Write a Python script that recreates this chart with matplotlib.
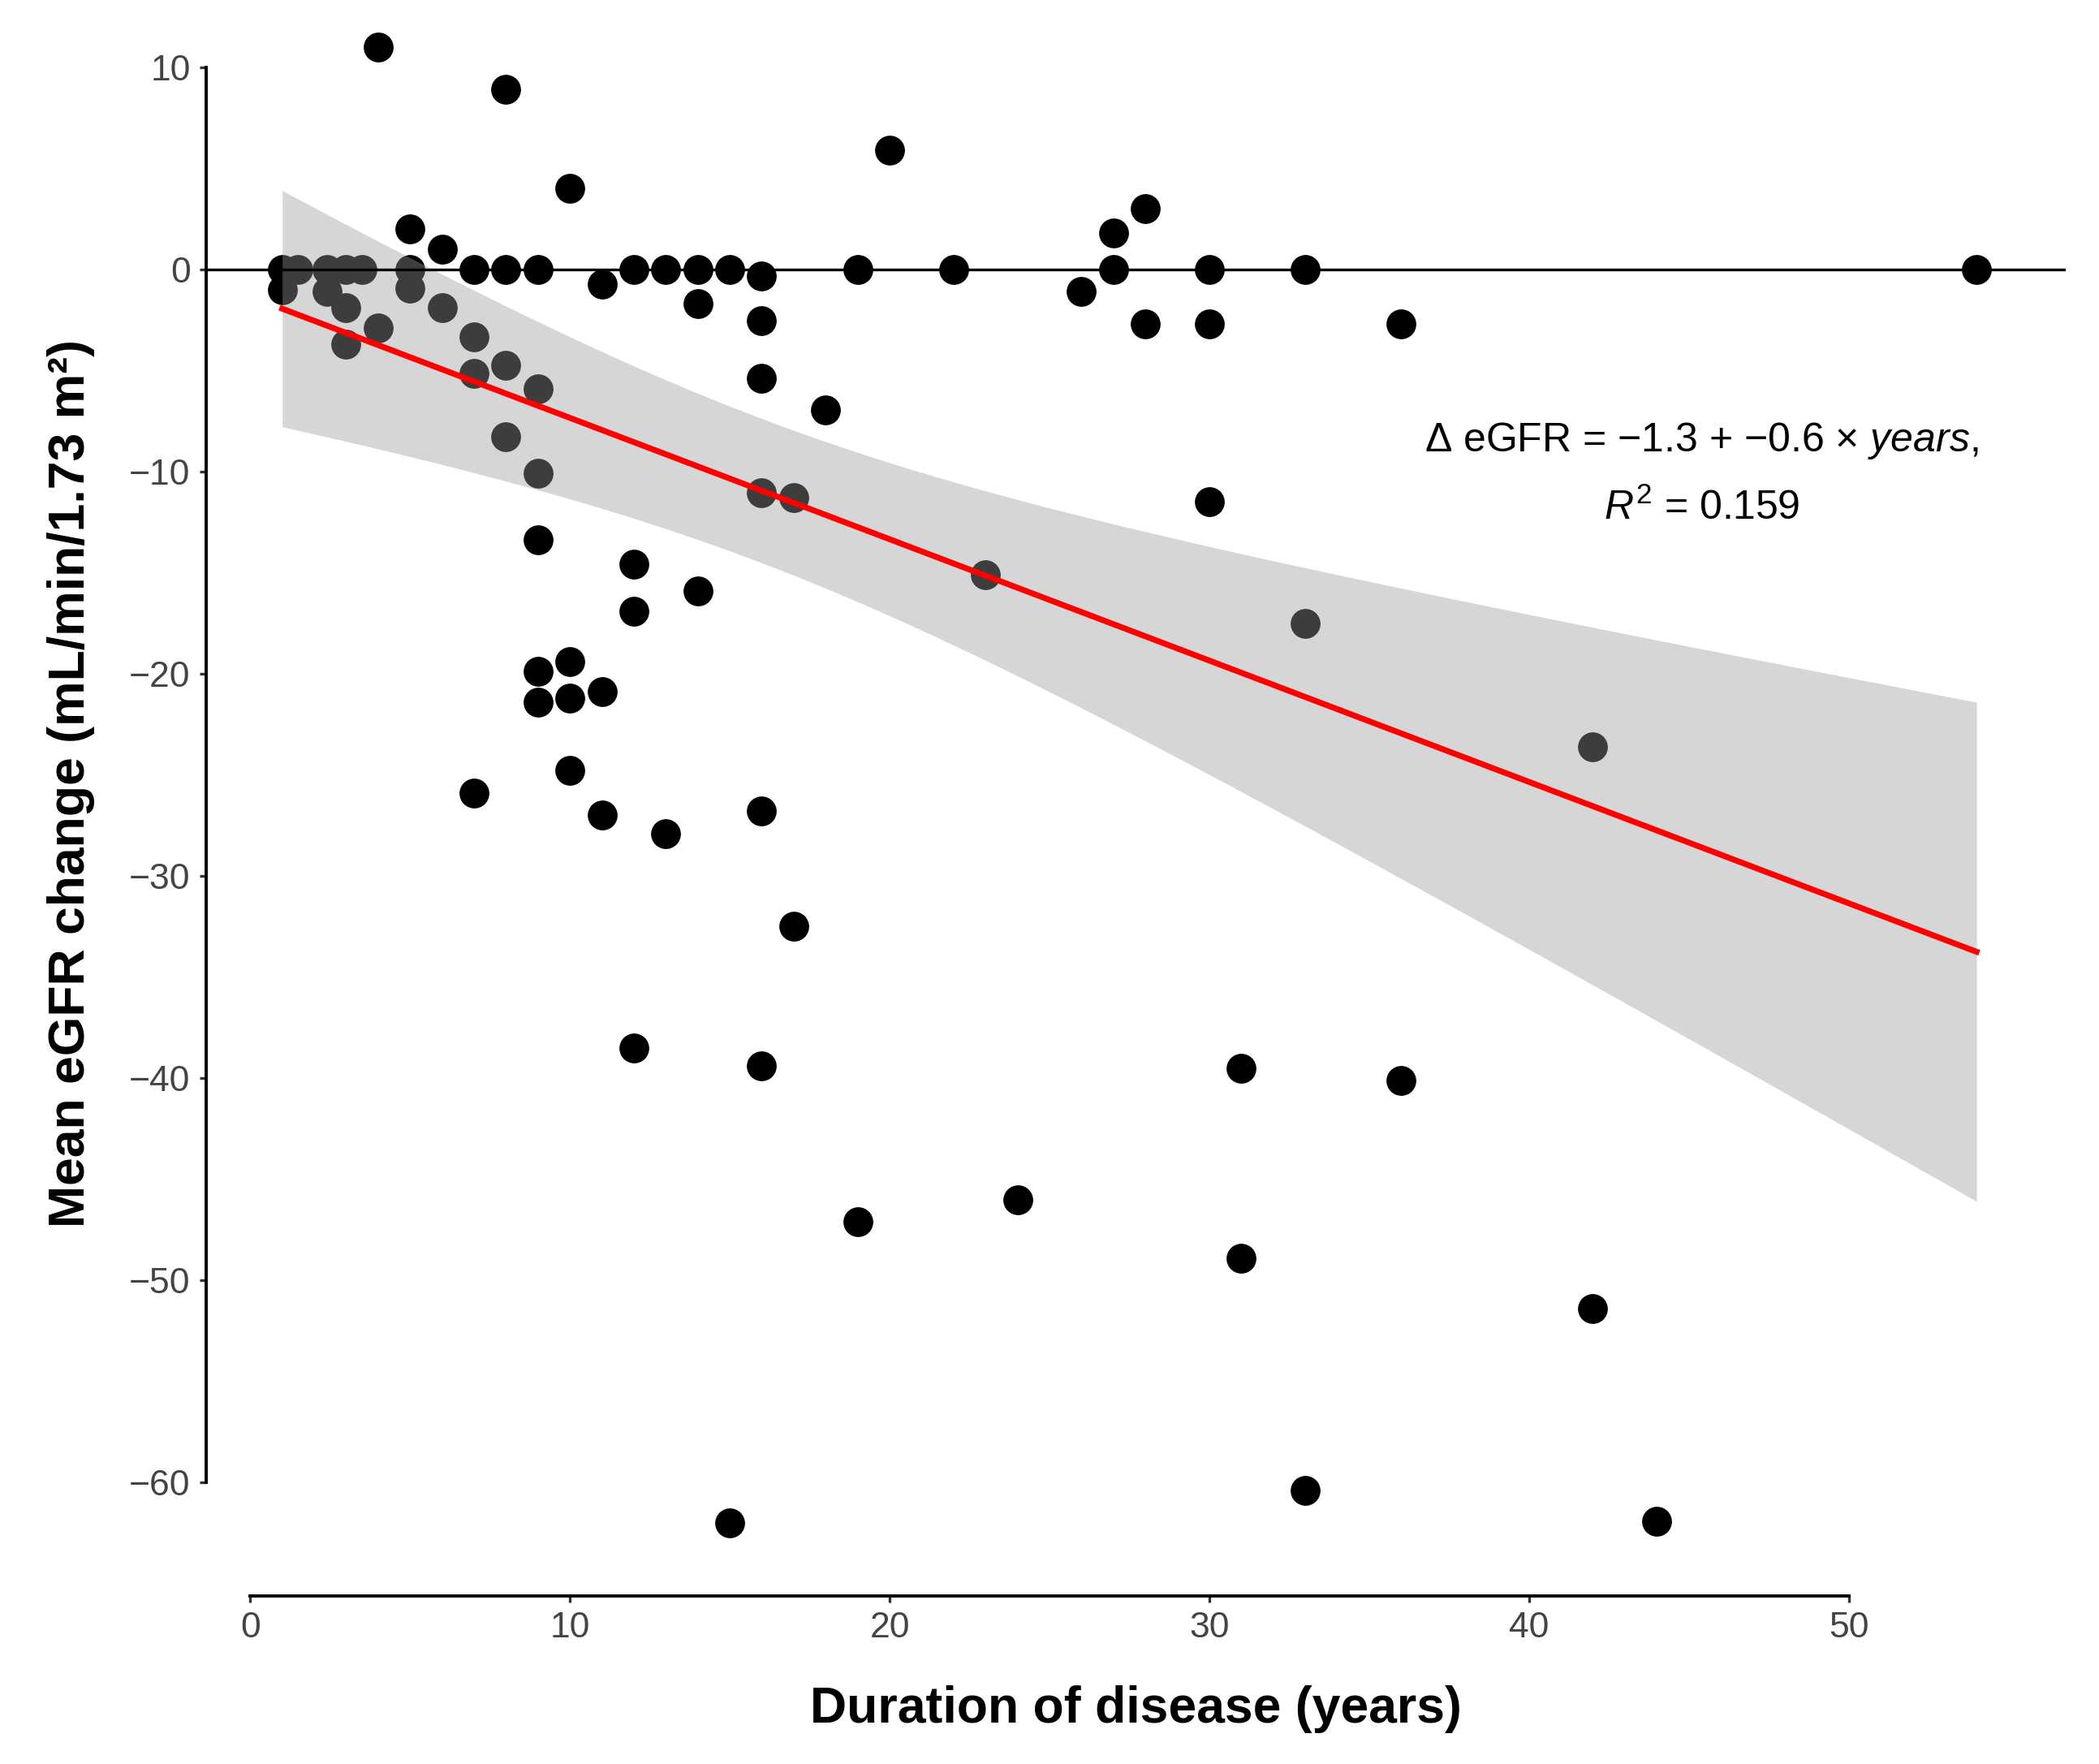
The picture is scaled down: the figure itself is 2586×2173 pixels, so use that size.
import numpy as np
import matplotlib
matplotlib.use("Agg")
import matplotlib.pyplot as plt

plt.rcParams['font.family'] = ['Liberation Sans', 'DejaVu Sans']
plt.rcParams['mathtext.fontset'] = 'custom'
plt.rcParams['mathtext.rm'] = 'Liberation Sans'
plt.rcParams['mathtext.it'] = 'Liberation Sans:italic'

# data: duration (years) vs mean eGFR change
duration = [1, 1.5, 2.4, 3, 3.5, 5, 7, 8, 9, 12, 13, 14, 15, 19, 22, 27, 30, 33, 54,
            1, 2.4, 3, 3, 4, 5, 5, 6, 6, 7, 7, 8, 8, 9, 9, 9, 9, 9,
            10, 10, 11, 10, 7, 11, 13, 16, 12, 12, 14, 11, 14, 16, 16, 16, 18,
            16, 17, 17, 12, 16, 19, 24, 15, 23, 26, 27, 28, 28, 30, 36, 30, 33,
            42, 31, 36, 31, 42, 33, 44, 4, 8, 10, 20]
egfr_change = [0, 0, 0, 0, 0, 0, 0, 0, 0, 0, 0, 0, 0, 0, 0, 0, 0, 0, 0,
               -1.0, -1.1, -1.9, -3.7, -2.9, -0.95, 2.0, 1.0, -1.9, -3.35, -5.15, -4.75, -8.3,
               -5.9, -10.1, -13.4, -19.9, -21.4,
               -19.4, -21.2, -20.9, -24.8, -25.9, -27.0, -27.9, -26.8, -14.6, -16.9, -15.9,
               -0.75, -1.7, -0.35, -2.55, -5.4, -6.95,
               -11.05, -11.3, -32.5, -38.5, -39.4, -47.1, -46.0, -62.0, -15.1, -1.1, 1.8,
               3.0, -2.7, -2.7, -2.7, -11.5, -17.5,
               -23.6, -39.5, -40.1, -48.9, -51.4, -60.4, -61.9, 11.0, 8.9, 4.0, 5.9]

# regression reported on the chart
fit_intercept = -1.35
fit_slope = -0.6
r_squared = 0.159

x_ticks = [0, 10, 20, 30, 40, 50]
y_ticks = [10, 0, -10, -20, -30, -40, -50, -60]

x = np.array(duration, dtype=float)
y = np.array(egfr_change, dtype=float)

# 95% confidence band of the linear fit (like geom_smooth(method = "lm"))
n = len(x)
b, a = np.polyfit(x, y, 1)
s = np.sqrt(np.sum((y - (a + b * x)) ** 2) / (n - 2))
t_crit = 1.99
xs = np.linspace(x.min(), x.max(), 200)
fit = fit_intercept + fit_slope * xs
se = s * np.sqrt(1 / n + (xs - x.mean()) ** 2 / np.sum((x - x.mean()) ** 2))

fig = plt.figure(figsize=(12.93, 10.865), dpi=200)
ax = fig.add_axes([0.0982, 0.0953, 0.8861, 0.8971])

ax.scatter(x, y, s=175, color='black', linewidths=0, zorder=2)
ax.fill_between(xs, fit - t_crit * se, fit + t_crit * se, color='#999999', alpha=0.4,
                linewidth=0, zorder=3)
ax.plot(xs, fit, color='red', lw=2.6, zorder=4)
ax.axhline(0, color='black', lw=1.2, zorder=5)

ax.text(45.4, -8.5, 'Δ eGFR = −1.3 + −0.6 × $\\mathit{years}$,', ha='center', va='center',
        fontsize=18, color='black')
ax.text(45.4, -11.8, '$\\mathit{R}^{2}$ = %.3f' % r_squared, ha='center', va='center',
        fontsize=18, color='black')

ax.set_xlim(-1.38, 56.8)
ax.set_ylim(-65.6, 12.65)
ax.set_xticks(x_ticks)
ax.set_yticks(y_ticks)
ax.set_yticklabels(['10', '0', '−10', '−20', '−30', '−40', '−50', '−60'])

for side in ['top', 'right']:
    ax.spines[side].set_visible(False)
ax.spines['left'].set_bounds(-60, 10)
ax.spines['bottom'].set_bounds(0, 50)
ax.spines['left'].set_linewidth(1.4)
ax.spines['bottom'].set_linewidth(1.4)
ax.tick_params(axis='both', length=3, width=1.2, labelsize=16, labelcolor='#444444',
               color='#333333', pad=4)

ax.set_xlabel('Duration of disease (years)', fontsize=22.5, fontweight='bold', labelpad=18)
ax.set_ylabel('Mean eGFR change (mL/min/1.73 m²)', fontsize=22.5, fontweight='bold')
ax.yaxis.set_label_coords(-0.0598, 0.5135)

fig.savefig('out.png', dpi=200)
